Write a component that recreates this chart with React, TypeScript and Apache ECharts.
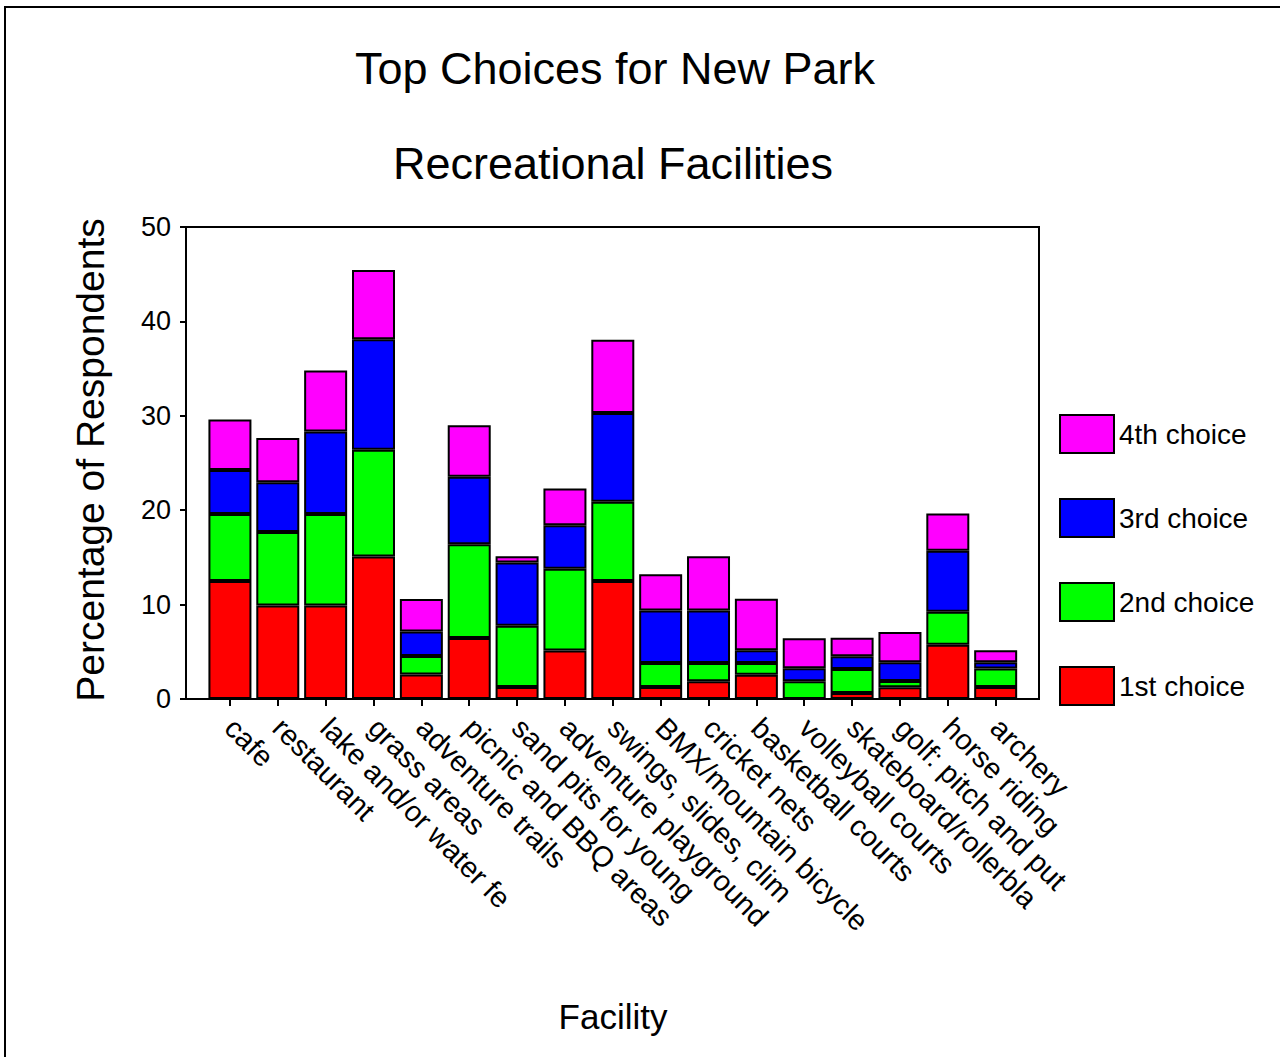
import React, { useEffect, useRef } from "react";
import * as echarts from "echarts";

const categories = [
  "cafe",
  "restaurant",
  "lake and/or water fe",
  "grass areas",
  "adventure trails",
  "picnic and BBQ areas",
  "sand pits for young",
  "adventure playground",
  "swings, slides, clim",
  "BMX/mountain bicycle",
  "cricket nets",
  "basketball courts",
  "volleyball courts",
  "skateboard/rollerbla",
  "golf: pitch and put",
  "horse riding",
  "archery",
];

const firstChoice = [12.5, 9.9, 9.9, 15.1, 2.6, 6.45, 1.27, 5.15, 12.5, 1.27, 1.87, 2.57, 0, 0.63, 1.25, 5.75, 1.27];
const secondChoice = [7.1, 7.8, 9.7, 11.3, 1.95, 9.95, 6.5, 8.65, 8.4, 2.55, 1.95, 1.25, 1.87, 2.55, 0.65, 3.5, 1.97];
const thirdChoice = [4.65, 5.25, 8.75, 11.7, 2.6, 7.15, 6.7, 4.6, 9.4, 5.55, 5.55, 1.35, 1.4, 1.35, 2.0, 6.45, 0.65];
const fourthChoice = [5.35, 4.7, 6.45, 7.35, 3.45, 5.45, 0.65, 3.9, 7.75, 3.85, 5.75, 5.45, 3.17, 1.95, 3.2, 3.95, 1.27];

const seriesNames = ["1st choice", "2nd choice", "3rd choice", "4th choice"];
const seriesColors = ["#FF0000", "#00FF00", "#0000FF", "#FF00FF"];
const legendOrder = ["4th choice", "3rd choice", "2nd choice", "1st choice"];

const titleLine1 = "Top Choices for New Park";
const titleLine2 = "Recreational Facilities";
const xAxisTitle = "Facility";
const yAxisTitle = "Percentage of Respondents";

const FONT = "'Liberation Sans', Arial, Helvetica, sans-serif";

export default function App() {
  const ref = useRef<HTMLDivElement>(null);

  useEffect(() => {
    if (!ref.current) return;
    const chart = echarts.init(ref.current, null, { renderer: "svg" });
    const values = [firstChoice, secondChoice, thirdChoice, fourthChoice];

    const option: any = {
      animation: false,
      backgroundColor: "#ffffff",
      textStyle: { fontFamily: FONT, color: "#000" },
      grid: {
        left: 206,
        top: 227,
        width: 813.6,
        height: 472,
        containLabel: false,
      },
      legend: {
        orient: "vertical",
        left: 1059,
        top: 414,
        padding: 0,
        itemWidth: 54,
        itemHeight: 38,
        itemGap: 44,
        icon: "rect",
        data: legendOrder,
        textStyle: { fontSize: 28, color: "#000", fontFamily: FONT },
        itemStyle: { borderColor: "#000", borderWidth: 2 },
      },
      xAxis: {
        type: "category",
        data: categories,
        axisLine: { show: false },
        axisTick: {
          show: true,
          alignWithLabel: true,
          length: 7,
          lineStyle: { color: "#000", width: 2 },
        },
        axisLabel: {
          interval: 0,
          rotate: -45,
          fontSize: 29,
          color: "#000",
          fontFamily: FONT,
          margin: 24,
        },
        splitLine: { show: false },
      },
      yAxis: {
        type: "value",
        min: 0,
        max: 50,
        interval: 10,
        offset: 20,
        axisLine: { show: true, lineStyle: { color: "#000", width: 2 } },
        axisTick: { show: true, length: 6, lineStyle: { color: "#000", width: 2 } },
        axisLabel: { fontSize: 27, color: "#000", fontFamily: FONT, margin: 15 },
        splitLine: { show: false },
      },
      series: seriesNames.map((name, i) => ({
        name,
        type: "bar",
        stack: "total",
        barWidth: 43,
        data: values[i],
        itemStyle: {
          color: seriesColors[i],
          borderColor: "#000",
          borderWidth: 2,
        },
        emphasis: { disabled: true },
      })),
      graphic: [
        {
          type: "rect",
          z: 100,
          shape: { x: 186, y: 227, width: 853, height: 472 },
          style: { fill: "none", stroke: "#000", lineWidth: 2 },
          silent: true,
        },
        {
          type: "polyline",
          z: 100,
          shape: { points: [[5, 1057], [5, 7], [1280, 7]] },
          style: { fill: "none", stroke: "#000", lineWidth: 2 },
          silent: true,
        },
        {
          type: "text",
          x: 615,
          y: 68,
          style: {
            text: titleLine1,
            fontSize: 45,
            fontFamily: FONT,
            fill: "#000",
            textAlign: "center",
            textVerticalAlign: "middle",
            align: "center",
            verticalAlign: "middle",
          },
        },
        {
          type: "text",
          x: 613,
          y: 163,
          style: {
            text: titleLine2,
            fontSize: 45,
            fontFamily: FONT,
            fill: "#000",
            textAlign: "center",
            textVerticalAlign: "middle",
            align: "center",
            verticalAlign: "middle",
          },
        },
        {
          type: "text",
          x: 613,
          y: 1016,
          style: {
            text: xAxisTitle,
            fontSize: 35,
            fontFamily: FONT,
            fill: "#000",
            textAlign: "center",
            textVerticalAlign: "middle",
            align: "center",
            verticalAlign: "middle",
          },
        },
        {
          type: "text",
          x: 90,
          y: 460,
          rotation: Math.PI / 2,
          style: {
            text: yAxisTitle,
            fontSize: 39,
            fontFamily: FONT,
            fill: "#000",
            textAlign: "center",
            textVerticalAlign: "middle",
            align: "center",
            verticalAlign: "middle",
          },
        },
      ],
    };

    chart.setOption(option);
    return () => chart.dispose();
  }, []);

  return (
    <div
      ref={ref}
      style={{ position: "absolute", left: 0, top: 0, width: 1280, height: 1057 }}
    />
  );
}
